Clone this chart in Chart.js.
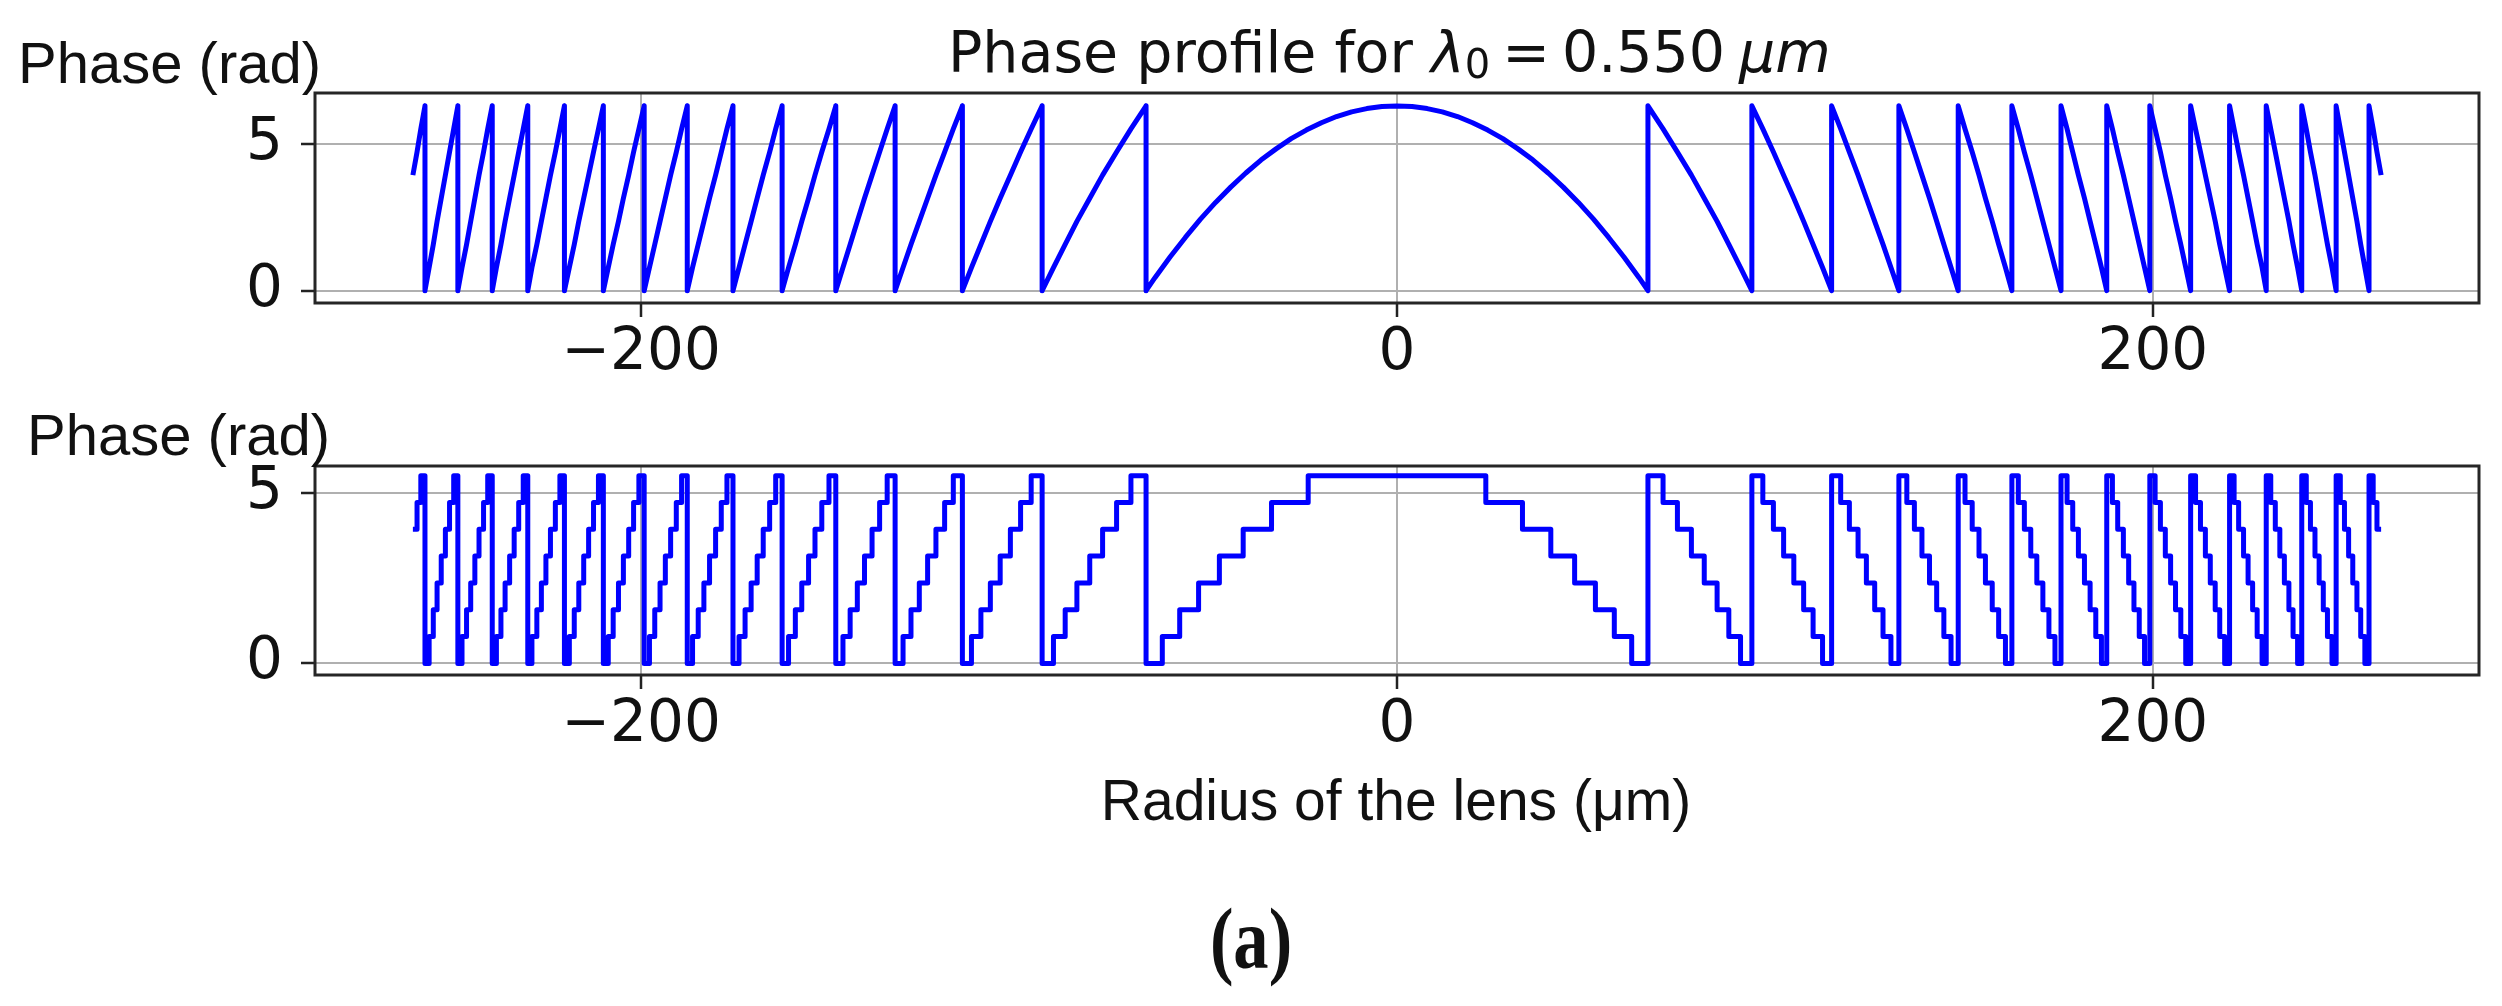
<!DOCTYPE html>
<html>
<head>
<meta charset="utf-8">
<title>Phase profile</title>
<script src="https://cdn.jsdelivr.net/npm/chart.js@4.4.1/dist/chart.umd.min.js"></script>
<style>
  body { margin: 0; background: #fff; width: 2502px; height: 1006px; position: relative; overflow: hidden; }
  canvas { position: absolute; left: 0; }
  #topChart { top: 0; }
  #bottomChart { top: 400px; }
</style>
</head>
<body>
<canvas id="topChart" width="2502" height="400" style="width:2502px;height:400px"></canvas>
<canvas id="bottomChart" width="2502" height="606" style="width:2502px;height:606px"></canvas>
<script>
// radius (µm) where the phase crosses each pi/4 level, centre outwards (the left half is the mirror)
// every 8th value is a zone edge where the phase wraps
const levelRadii = [
    23.5, 33.2, 40.7, 47.0, 52.5, 57.5, 62.1, 66.4,
    70.4, 74.2, 77.9, 81.3, 84.7, 87.8, 90.9, 93.9,
    96.8, 99.6, 102.3, 105.0, 107.6, 110.1, 112.6, 115.0,
    117.4, 119.7, 122.0, 124.2, 126.4, 128.6, 130.7, 132.8,
    134.9, 136.9, 138.9, 140.9, 142.8, 144.7, 146.6, 148.5,
    150.3, 152.2, 154.0, 155.7, 157.5, 159.2, 161.0, 162.7,
    164.4, 166.0, 167.7, 169.3, 170.9, 172.5, 174.1, 175.7,
    177.3, 178.8, 180.3, 181.9, 183.4, 184.9, 186.4, 187.8,
    189.3, 190.7, 192.2, 193.6, 195.0, 196.4, 197.8, 199.2,
    200.6, 202.0, 203.3, 204.7, 206.0, 207.4, 208.7, 210.0,
    211.3, 212.6, 213.9, 215.2, 216.5, 217.7, 219.0, 220.3,
    221.5, 222.7, 224.0, 225.2, 226.4, 227.6, 228.9, 230.0,
    231.2, 232.4, 233.6, 234.8, 236.0, 237.1, 238.3, 239.4,
    240.6, 241.7, 242.9, 244.0, 245.1, 246.2, 247.4, 248.5,
    249.6, 250.7, 251.8, 252.9, 254.0, 255.0, 256.1, 257.2,
    258.3, 259.3, 260.4
];
// the 8 quantised phase levels (rad)
const phaseLevels = [0, 0.785, 1.571, 2.356, 3.142, 3.927, 4.712, 5.498];
const peakPhase = 6.283;
// central zone of the continuous profile
const domeRadii = [0, 4, 8, 12, 16, 20, 24, 28, 32, 36, 40, 44, 48, 52, 56, 60, 64];
const domePhase = [6.28, 6.26, 6.19, 6.08, 5.92, 5.71, 5.46, 5.17, 4.82, 4.44, 4.00, 3.52, 3.00, 2.43, 1.81, 1.15, 0.45];

const xTicks = [-200, 0, 200];
const yTicks = [0, 5];

const titleText = ['Phase profile for ', 'λ', '0', '=', '0.550', 'μm'];
const yLabel = 'Phase (rad)';
const xLabel = 'Radius of the lens (μm)';
const caption = '(a)';

// right half of the continuous (wrapped) profile
function continuousHalf() {
    const pts = domeRadii.map((r, i) => ({ x: r, y: domePhase[i] }));
    levelRadii.forEach((r, i) => {
        if (i < 7) return;
        const k = (i + 1) % 8;
        if (k === 0) {
            pts.push({ x: r, y: 0 }, { x: r, y: peakPhase });
        } else {
            pts.push({ x: r, y: phaseLevels[8 - k] });
        }
    });
    return pts;
}

// right half of the 8-level quantised profile
function quantisedHalf() {
    const pts = [];
    let start = 0;
    levelRadii.forEach((r, i) => {
        const y = phaseLevels[7 - (i % 8)];
        pts.push({ x: start, y: y }, { x: r, y: y });
        start = r;
    });
    return pts;
}

function mirror(half) {
    const left = half.slice(1).reverse().map(p => ({ x: -p.x, y: p.y }));
    return left.concat(half);
}

const fmt = v => (v < 0 ? '\u2212' + Math.abs(v) : String(v));

const framePlugin = {
    id: 'frame',
    afterDatasetsDraw(chart) {
        const { ctx, chartArea: a } = chart;
        ctx.save();
        ctx.strokeStyle = '#262626';
        ctx.lineWidth = 3;
        ctx.strokeRect(a.left, a.top, a.right - a.left, a.bottom - a.top);
        ctx.restore();
    }
};

// draws a line of text made of parts, each with its own font, shift and squeeze
function textPlugin(items) {
    return {
        id: 'texts',
        afterDraw(chart) {
            const ctx = chart.ctx;
            items.forEach(item => {
                ctx.save();
                ctx.fillStyle = '#111';
                ctx.textBaseline = 'alphabetic';
                ctx.textAlign = 'left';
                let w = 0;
                item.parts.forEach(p => {
                    ctx.font = p.font;
                    w += (p.dx || 0) + ctx.measureText(p.text).width * (p.sx || 1);
                });
                let x = item.align === 'center' ? item.x - w / 2 : item.x;
                item.parts.forEach(p => {
                    ctx.font = p.font;
                    x += p.dx || 0;
                    ctx.save();
                    ctx.translate(x, item.y + (p.dy || 0));
                    ctx.scale(p.sx || 1, 1);
                    ctx.fillText(p.text, 0, 0);
                    ctx.restore();
                    x += ctx.measureText(p.text).width * (p.sx || 1);
                });
                ctx.restore();
            });
        }
    };
}

const tickFont = { family: '"DejaVu Sans"', size: 58 };
const grid = {
    color: '#b0b0b0',
    lineWidth: 2,
    tickColor: '#222',
    tickWidth: 2.5,
    tickLength: 14
};

function phaseChart(id, points, yMin, yMax, padTop, xAxisHeight, texts) {
    return new Chart(document.getElementById(id), {
        type: 'scatter',
        data: {
            datasets: [{
                data: points,
                showLine: true,
                borderColor: '#0000ff',
                borderWidth: 5,
                borderJoinStyle: 'round',
                pointRadius: 0,
                tension: 0
            }]
        },
        options: {
            responsive: false,
            animation: false,
            events: [],
            layout: { padding: { top: padTop, right: 23, left: 0, bottom: 0 } },
            plugins: { legend: { display: false }, tooltip: { enabled: false } },
            scales: {
                x: {
                    type: 'linear',
                    min: -286.3,
                    max: 286.3,
                    afterBuildTicks: s => { s.ticks = xTicks.map(v => ({ value: v })); },
                    afterFit: s => { s.height = xAxisHeight; },
                    ticks: { font: tickFont, color: '#111', padding: 2, maxRotation: 0, callback: v => fmt(v) },
                    grid: grid,
                    border: { display: false }
                },
                y: {
                    min: yMin,
                    max: yMax,
                    afterBuildTicks: s => { s.ticks = yTicks.map(v => ({ value: v })); },
                    afterFit: s => { s.width = 315; },
                    ticks: { font: tickFont, color: '#111', padding: 18, callback: v => fmt(v) },
                    grid: grid,
                    border: { display: false }
                }
            }
        },
        plugins: [framePlugin, textPlugin(texts)]
    });
}

const titleFont = '57px "DejaVu Sans"';
const labelFont = '58px "Liberation Sans"';

phaseChart('topChart', mirror(continuousHalf()), -0.42, 6.72, 93, 97, [
    {
        align: 'left', x: 948, y: 72,
        parts: [
            { text: titleText[0], font: titleFont },
            { text: titleText[1], font: 'italic ' + titleFont },
            { text: titleText[2], font: '40px "DejaVu Sans"', dy: 6 },
            { text: titleText[3], font: titleFont, dx: 12 },
            { text: titleText[4], font: titleFont, dx: 12 },
            { text: titleText[5], font: 'italic ' + titleFont, dx: 14 }
        ]
    },
    { align: 'left', x: 18, y: 83, parts: [{ text: yLabel, font: labelFont }] }
]);

phaseChart('bottomChart', mirror(quantisedHalf()), -0.34, 5.78, 66, 331, [
    { align: 'left', x: 27, y: 55, parts: [{ text: yLabel, font: labelFont }] },
    { align: 'center', x: 1396, y: 420, parts: [{ text: xLabel, font: '57px "Liberation Sans"' }] },
    { align: 'center', x: 1251, y: 568, parts: [{ text: caption, font: 'bold 86px "Liberation Serif"', sx: 0.82 }] }
]);
</script>
</body>
</html>
